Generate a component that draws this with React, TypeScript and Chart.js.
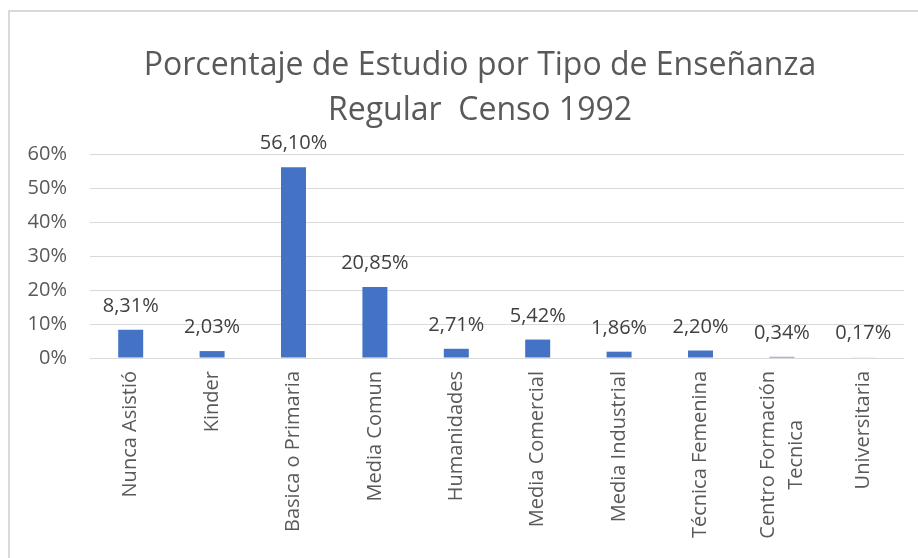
import React, { useEffect, useRef } from "react";
import { Chart, registerables } from "chart.js";

Chart.register(...registerables);

const categories: (string | string[])[] = [
  "Nunca Asistió",
  "Kinder",
  "Basica o Primaria",
  "Media Comun",
  "Humanidades",
  "Media Comercial",
  "Media Industrial",
  "Técnica Femenina",
  ["Centro Formación", "Tecnica"],
  "Universitaria",
];
const percentages = [8.31, 2.03, 56.1, 20.85, 2.71, 5.42, 1.86, 2.2, 0.34, 0.17];
const titleLines = ["Porcentaje de Estudio por Tipo de Enseñanza", "Regular  Censo 1992"];
const yTicksMax = 60;
const yStep = 10;

const FONT = "'Open Sans', 'Noto Sans', sans-serif";

const dataLabelPlugin = {
  id: "dataLabels",
  afterDatasetsDraw(chart: any) {
    const ctx = chart.ctx;
    const meta = chart.getDatasetMeta(0);
    ctx.save();
    ctx.font = `20px ${FONT}`;
    ctx.fillStyle = "#404040";
    ctx.textAlign = "center";
    ctx.textBaseline = "alphabetic";
    meta.data.forEach((el: any, i: number) => {
      const v = chart.data.datasets[0].data[i] as number;
      const text = v.toFixed(2).replace(".", ",") + "%";
      ctx.fillText(text, el.x, el.y - 18);
    });
    ctx.restore();
  },
};

const xLabelPlugin = {
  id: "xLabels",
  afterDraw(chart: any) {
    const ctx = chart.ctx;
    const scale = chart.scales.x;
    const lineH = 28;
    const pad = 13;
    ctx.save();
    ctx.font = `20px ${FONT}`;
    ctx.fillStyle = "#595959";
    ctx.textBaseline = "middle";
    (chart.data.labels as any[]).forEach((lab: any, i: number) => {
      const lines: string[] = Array.isArray(lab) ? lab : [lab];
      const x = scale.getPixelForTick(i);
      const y = scale.top + pad;
      const widths = lines.map((l) => ctx.measureText(l).width);
      const maxW = Math.max(...widths);
      ctx.save();
      ctx.translate(x, y);
      ctx.rotate(-Math.PI / 2);
      lines.forEach((l, k) => {
        const off = (k - (lines.length - 1) / 2) * lineH;
        ctx.textAlign = "center";
        ctx.fillText(l, -maxW / 2, off);
      });
      ctx.restore();
    });
    ctx.restore();
  },
};

const titlePlugin = {
  id: "twoLineTitle",
  afterDraw(chart: any) {
    const ctx = chart.ctx;
    const cx = 470;
    const firstY = 53.6;
    const lineH = 45.1;
    ctx.save();
    ctx.font = `32px ${FONT}`;
    ctx.fillStyle = "#595959";
    ctx.textAlign = "center";
    ctx.textBaseline = "middle";
    titleLines.forEach((t, i) => ctx.fillText(t, cx, firstY + i * lineH));
    ctx.restore();
  },
};

export default function App() {
  const ref = useRef<HTMLCanvasElement | null>(null);
  useEffect(() => {
    if (!ref.current) return;
    const chart = new Chart(ref.current, {
      type: "bar",
      data: {
        labels: categories,
        datasets: [
          {
            data: percentages,
            backgroundColor: "#4472C4",
            barPercentage: 0.307,
            categoryPercentage: 1,
          },
        ],
      },
      options: {
        animation: false,
        responsive: false,
        maintainAspectRatio: false,
        layout: { padding: { left: 0, right: 14, top: 142, bottom: 0 } },
        plugins: {
          legend: { display: false },
          tooltip: { enabled: false },
          title: { display: false },
        },
        scales: {
          x: {
            grid: { display: false, drawTicks: false },
            border: { display: false },
            ticks: { display: false, autoSkip: false },
            afterFit: (scale: any) => {
              scale.height = 200;
            },
          },
          y: {
            min: 0,
            max: yTicksMax,
            grid: { color: "#d9d9d9", lineWidth: 1, drawTicks: false },
            border: { display: false },
            ticks: {
              stepSize: yStep,
              padding: 23,
              color: "#595959",
              font: { family: FONT, size: 20 },
              callback: (v: any) => v + "%",
            },
            afterFit: (scale: any) => {
              scale.width = 80;
            },
          },
        },
      },
      plugins: [dataLabelPlugin, xLabelPlugin, titlePlugin],
    });
    return () => chart.destroy();
  }, []);
  return (
    <div
      style={{
        position: "absolute",
        left: 8,
        top: 10,
        width: 1000,
        height: 700,
        borderLeft: "2px solid #d9d9d9",
        borderTop: "2px solid #d9d9d9",
        background: "#fff",
      }}
    >
      <canvas ref={ref} width={908} height={546} style={{ display: "block" }} />
    </div>
  );
}
